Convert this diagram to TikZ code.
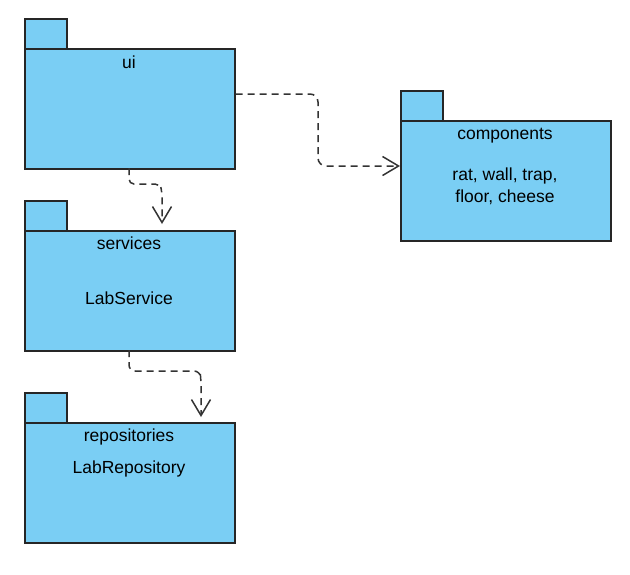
\documentclass[tikz,border=0pt]{standalone}
\usepackage{fontspec}
\setmainfont{Liberation Sans}
\usetikzlibrary{arrows.meta}
\definecolor{pkgfill}{HTML}{7ACEF4}
\definecolor{pkgline}{HTML}{262626}
\definecolor{depline}{HTML}{333333}
\tikzset{
  pkgbody/.style={draw=pkgline, fill=pkgfill, line width=1.5pt, rectangle, minimum width=210pt, minimum height=120pt, anchor=north west, inner sep=0pt},
  pkgtab/.style={draw=pkgline, fill=pkgfill, line width=1.5pt, rectangle, minimum width=42pt, minimum height=30pt, anchor=north west, inner sep=0pt},
  pkgtext/.style={font=\fontsize{17.5pt}{22pt}\selectfont, align=center, anchor=base, inner sep=0pt},
  dep/.style={draw=depline, line width=1.5pt, dash pattern=on 7pt off 5pt, rounded corners=8pt, -{Straight Barb[length=16pt,width=19pt,line width=1.5pt]}}
}
\begin{document}
\begin{tikzpicture}[x=1pt,y=-1pt]
\useasboundingbox (0,0) rectangle (630,574);
% ui
\node[pkgtab] (uitab) at (24,18) {};
\node[pkgbody] (ui) at (24,48) {};
\node[pkgtext] (uilbl) at (129,68) {ui};
% services
\node[pkgtab] (svtab) at (24,200) {};
\node[pkgbody] (sv) at (24,230) {};
\node[pkgtext] (svlbl) at (129,249) {services};
\node[pkgtext] (svcont) at (129,304) {LabService};
% repositories
\node[pkgtab] (rptab) at (24,392) {};
\node[pkgbody] (rp) at (24,422) {};
\node[pkgtext] (rplbl) at (129,441) {repositories};
\node[pkgtext] (rpcont) at (129,473) {LabRepository};
% components
\node[pkgtab] (cptab) at (400,90) {};
\node[pkgbody] (cp) at (400,120) {};
\node[pkgtext] (cplbl) at (505,139) {components};
\node[pkgtext] (cpcont1) at (505,180) {rat, wall, trap,};
\node[pkgtext] (cpcont2) at (505,202) {floor, cheese};
% dependencies
\coordinate (svin) at (162,224);
\coordinate (rpin) at (201,417);
\draw[dep] (ui.east |- 0,94) -- (318,94) -- (318,166) -- (cp.west |- 0,166);
\draw[dep, rounded corners=5pt] (129,168) -- (129,184) -- (160,184) -- (162,192) -- (svin);
\draw[dep, rounded corners=6pt] (129,350) -- (129,371) -- (200,371) -- (201,380) -- (rpin);
\end{tikzpicture}
\end{document}
